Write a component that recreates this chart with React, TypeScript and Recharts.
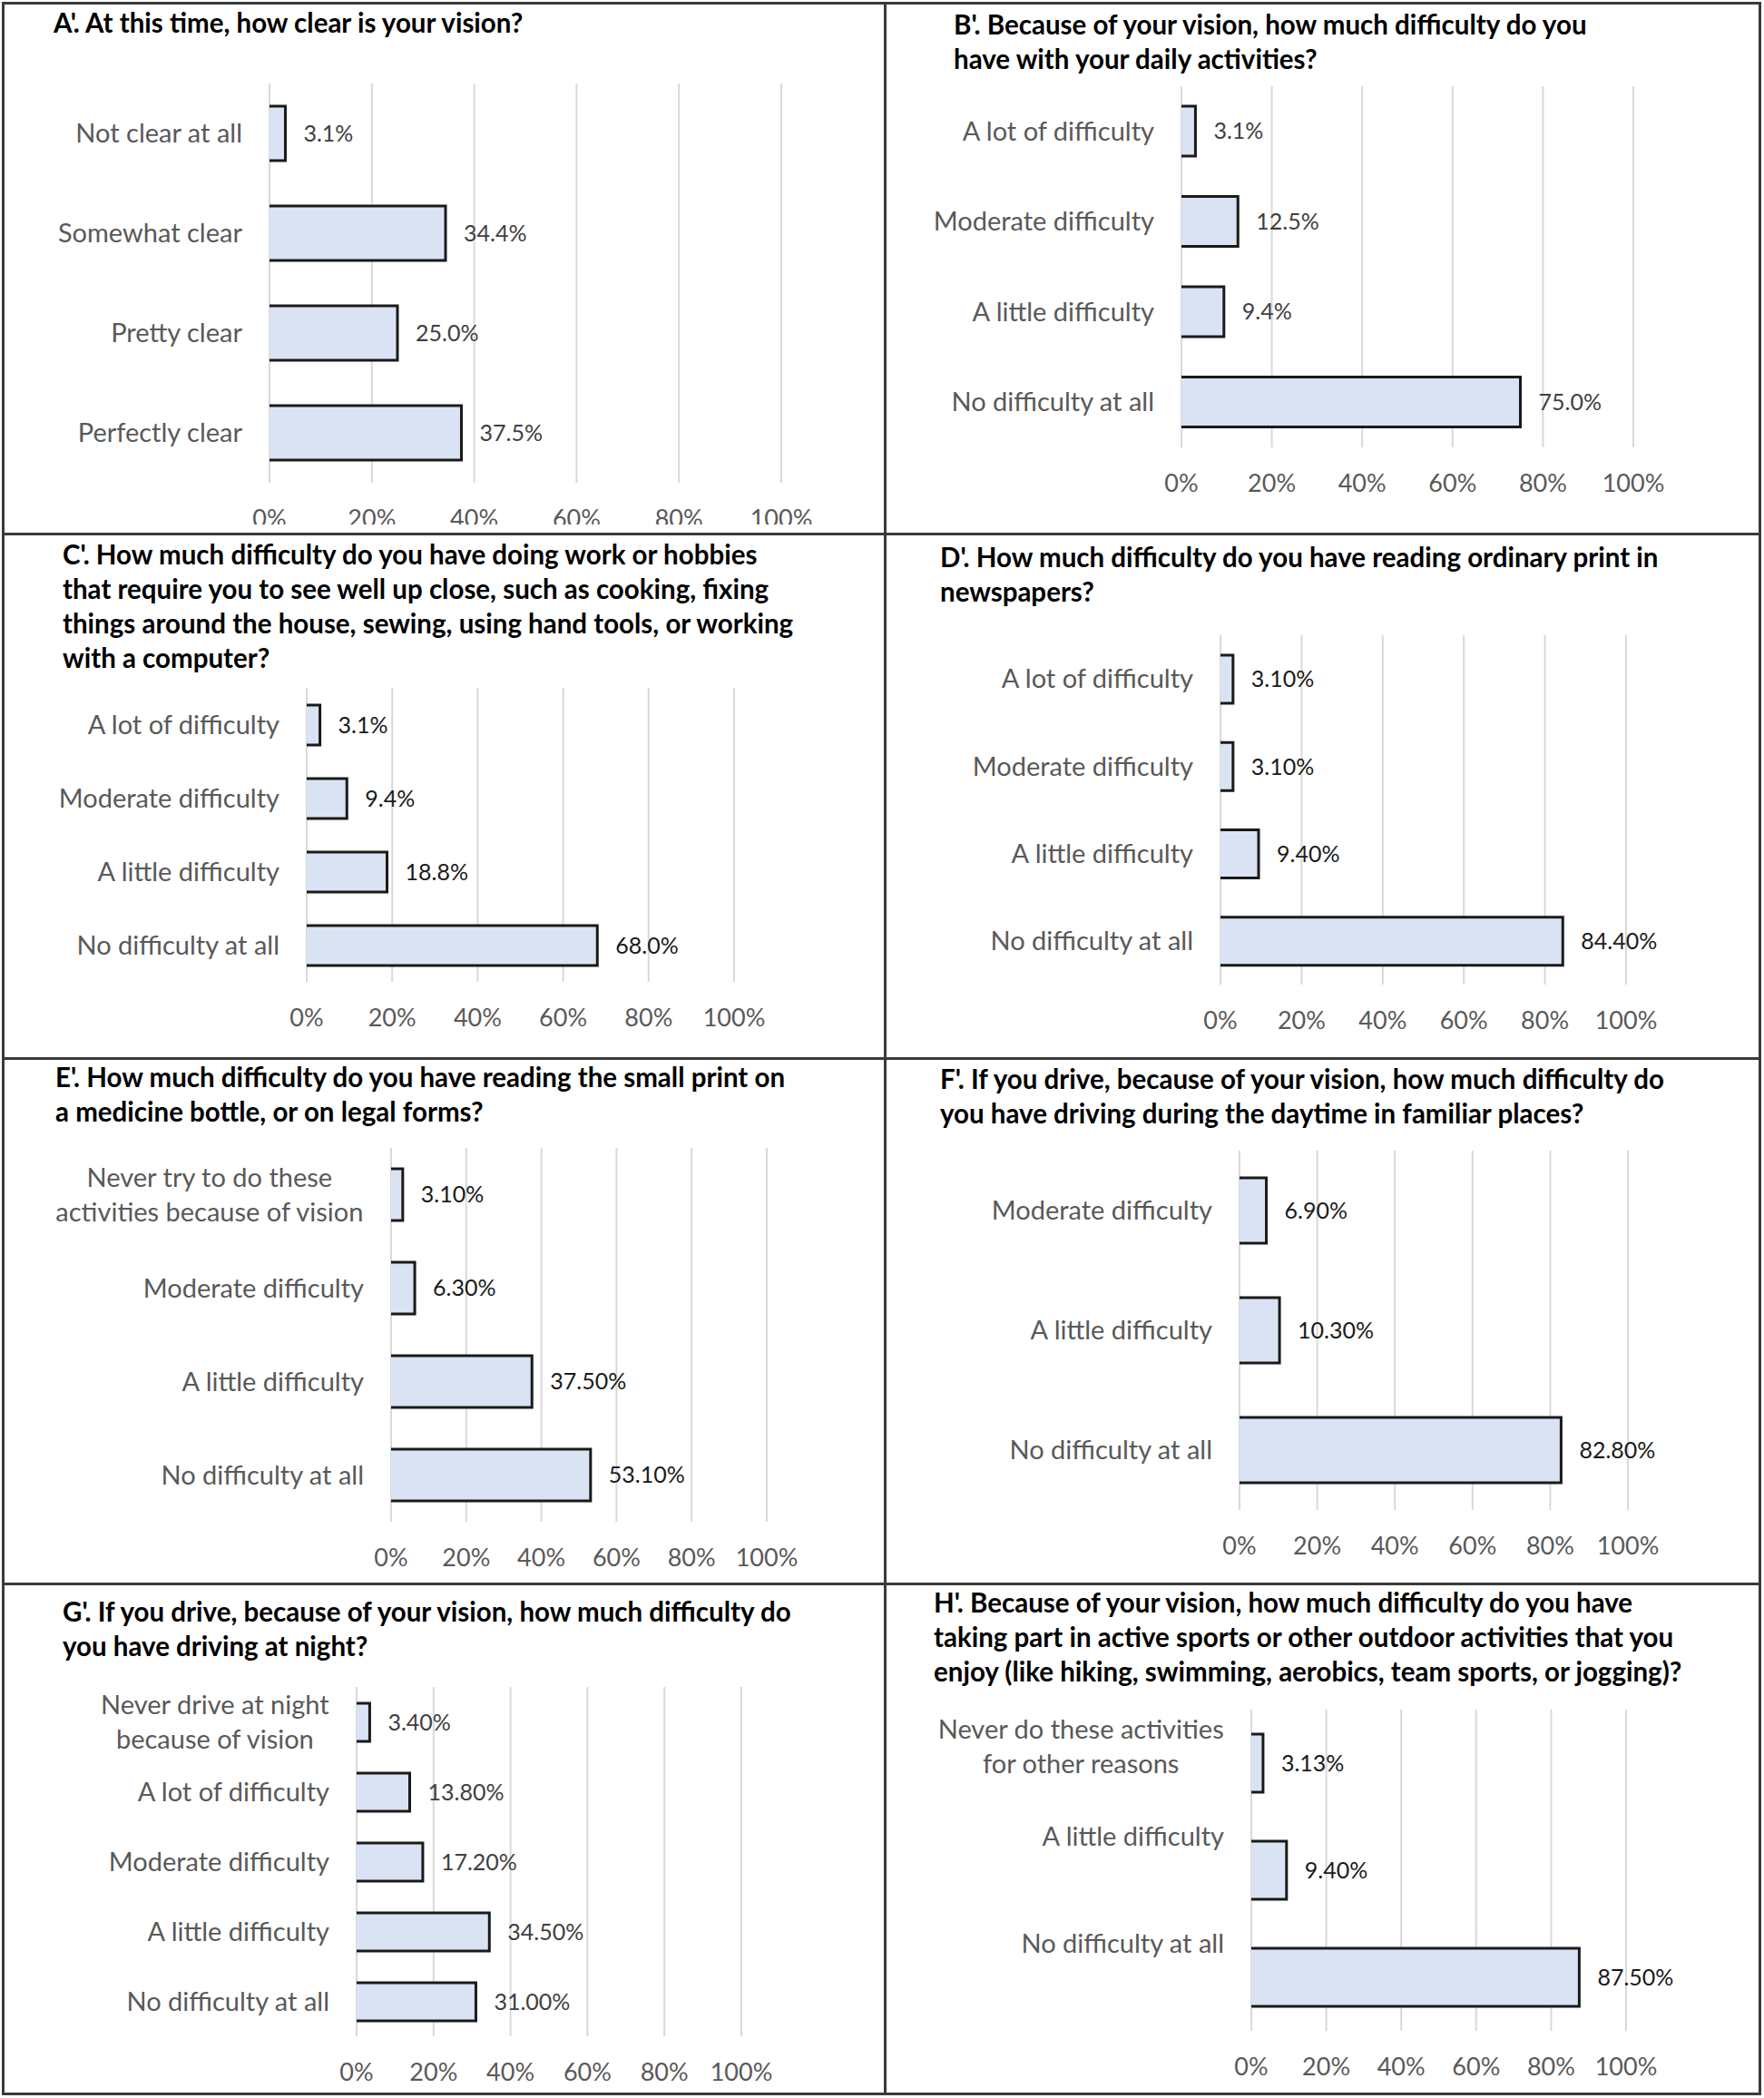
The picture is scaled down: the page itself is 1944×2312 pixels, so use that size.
import React from 'react';
import { BarChart, Bar, XAxis, YAxis, CartesianGrid, LabelList } from 'recharts';

const FONT = "Lato, 'Open Sans', 'DejaVu Sans Condensed', sans-serif";

// values in percent, top category first
const xTicks = [0, 20, 40, 60, 80, 100];

const catsA = ['Not clear at all', 'Somewhat clear', 'Pretty clear', 'Perfectly clear'];
const valsA = [3.1, 34.4, 25.0, 37.5];

const catsB = ['A lot of difficulty', 'Moderate difficulty', 'A little difficulty', 'No difficulty at all'];
const valsB = [3.1, 12.5, 9.4, 75.0];

const catsC = ['A lot of difficulty', 'Moderate difficulty', 'A little difficulty', 'No difficulty at all'];
const valsC = [3.1, 9.4, 18.8, 68.0];

const catsD = ['A lot of difficulty', 'Moderate difficulty', 'A little difficulty', 'No difficulty at all'];
const valsD = [3.1, 3.1, 9.4, 84.4];

const catsE = ['Never try to do these\nactivities because of vision', 'Moderate difficulty', 'A little difficulty', 'No difficulty at all'];
const valsE = [3.1, 6.3, 37.5, 53.1];

const catsF = ['Moderate difficulty', 'A little difficulty', 'No difficulty at all'];
const valsF = [6.9, 10.3, 82.8];

const catsG = ['Never drive at night\nbecause of vision', 'A lot of difficulty', 'Moderate difficulty', 'A little difficulty', 'No difficulty at all'];
const valsG = [3.4, 13.8, 17.2, 34.5, 31.0];

const catsH = ['Never do these activities\nfor other reasons', 'A little difficulty', 'No difficulty at all'];
const valsH = [3.13, 9.4, 87.5];

const titleA = ["A'. At this time, how clear is your vision?"];
const titleB = ["B'. Because of your vision, how much difficulty do you", 'have with your daily activities?'];
const titleC = [
  "C'. How much difficulty do you have doing work or hobbies",
  'that require you to see well up close, such as cooking, fixing',
  'things around the house, sewing, using hand tools, or working',
  'with a computer?',
];
const titleD = ["D'. How much difficulty do you have reading ordinary print in", 'newspapers?'];
const titleE = ["E'. How much difficulty do you have reading the small print on", 'a medicine bottle, or on legal forms?'];
const titleF = ["F'. If you drive, because of your vision, how much difficulty do", 'you have driving during the daytime in familiar places?'];
const titleG = ["G'. If you drive, because of your vision, how much difficulty do", 'you have driving at night?'];
const titleH = [
  "H'. Because of your vision, how much difficulty do you have",
  'taking part in active sports or other outdoor activities that you',
  'enjoy (like hiking, swimming, aerobics, team sports, or jogging)?',
];

interface PanelCfg {
  title: string[];
  cats: string[];
  vals: number[];
  dec: number;
  box: [number, number, number, number]; // left, top, width, height (page px)
  plot: [number, number, number, number]; // x0, x1, y0, y1 (page px)
  barSize: number;
  titleX: number;
  titleY: number;
  valueColor: string;
  labelTop?: boolean;
}

const panels: PanelCfg[] = [
  { title: titleA, cats: catsA, vals: valsA, dec: 1, box: [3, 3, 972, 575], plot: [297, 861, 92, 532], barSize: 60, titleX: 59, titleY: 25, valueColor: '#404040' },
  { title: titleB, cats: catsB, vals: valsB, dec: 1, box: [975, 3, 965, 585], plot: [1302, 1800, 95, 493], barSize: 55, titleX: 1051, titleY: 27, valueColor: '#404040' },
  { title: titleC, cats: catsC, vals: valsC, dec: 1, box: [3, 588, 972, 578], plot: [338, 809, 758, 1082], barSize: 44, titleX: 69, titleY: 611, valueColor: '#1a1a1a' },
  { title: titleD, cats: catsD, vals: valsD, dec: 2, box: [975, 588, 965, 578], plot: [1345, 1792, 700, 1085], barSize: 53, titleX: 1036, titleY: 614, valueColor: '#1a1a1a' },
  { title: titleE, cats: catsE, vals: valsE, dec: 2, box: [3, 1166, 972, 579], plot: [431, 845, 1265, 1677], barSize: 57, titleX: 61, titleY: 1187, valueColor: '#1a1a1a' },
  { title: titleF, cats: catsF, vals: valsF, dec: 2, box: [975, 1166, 965, 579], plot: [1366, 1794, 1268, 1664], barSize: 72, titleX: 1036, titleY: 1189, valueColor: '#1a1a1a' },
  { title: titleG, cats: catsG, vals: valsG, dec: 2, box: [3, 1745, 972, 563], plot: [393, 817, 1859, 2244], barSize: 42, titleX: 69, titleY: 1776, valueColor: '#404040' },
  { title: titleH, cats: catsH, vals: valsH, dec: 2, box: [975, 1745, 965, 563], plot: [1379, 1792, 1884, 2238], barSize: 64, titleX: 1029, titleY: 1766, valueColor: '#1a1a1a', labelTop: true },
];

const CAT_SIZE = 29;
const VAL_SIZE = 25;
const TICK_SIZE = 27;
const TITLE_SIZE = 29.5;
const XAXIS_H = 40;

let measureCtx: CanvasRenderingContext2D | null = null;
const textWidth = (s: string, size: number) => {
  if (!measureCtx) measureCtx = document.createElement('canvas').getContext('2d');
  if (!measureCtx) return s.length * size * 0.45;
  measureCtx.font = `${size}px ${FONT}`;
  return measureCtx.measureText(s).width;
};

const BarShape = (props: any) => {
  const { x, y, width, height } = props;
  return (
    <g>
      <rect x={x} y={y} width={width} height={height} fill="#DAE3F3" />
      <path d={`M${x},${y} H${x + width} V${y + height} H${x}`} stroke="#1a1a1a" strokeWidth={3} fill="none" />
    </g>
  );
};

const CatTick = (props: any) => {
  const { x, y, payload, cfg } = props;
  const lines = String(payload.value).split('\n');
  const lh = 38;
  const band = (cfg.plot[3] - cfg.plot[2]) / cfg.cats.length;
  const cy = cfg.labelTop ? y - band / 2 + 22 + ((lines.length - 1) * lh) / 2 : y;
  const right = x - 30;
  if (lines.length === 1) {
    return (
      <text x={right} y={cy} dy="0.35em" textAnchor="end" fill="#595959" fontSize={CAT_SIZE} fontFamily={FONT}>
        {lines[0]}
      </text>
    );
  }
  const w = Math.max(...lines.map((l) => textWidth(l, CAT_SIZE)));
  return (
    <g>
      {lines.map((l, i) => (
        <text key={i} x={right - w / 2} y={cy + (i - (lines.length - 1) / 2) * lh} dy="0.35em" textAnchor="middle" fill="#595959" fontSize={CAT_SIZE} fontFamily={FONT}>
          {l}
        </text>
      ))}
    </g>
  );
};

const PctTick = (props: any) => {
  const { x, y, payload } = props;
  return (
    <text x={x} y={y + 40} dy="0.35em" textAnchor="middle" fill="#595959" fontSize={TICK_SIZE} fontFamily={FONT}>
      {payload.value}%
    </text>
  );
};

const Panel: React.FC<{ cfg: PanelCfg }> = ({ cfg }) => {
  const [left, top, width, height] = cfg.box;
  const [x0, x1, y0, y1] = cfg.plot;
  const data = cfg.cats.map((name, i) => ({ name, value: cfg.vals[i] }));
  return (
    <>
      <div
        style={{
          position: 'absolute',
          left: cfg.titleX,
          top: cfg.titleY - 19,
          fontFamily: FONT,
          fontWeight: 'bold',
          fontSize: TITLE_SIZE,
          lineHeight: '38px',
          color: '#000',
          whiteSpace: 'nowrap',
        }}
      >
        {cfg.title.map((t, i) => (
          <div key={i}>{t}</div>
        ))}
      </div>
      <div style={{ position: 'absolute', left, top, width, height, overflow: 'hidden' }}>
        <BarChart
          width={width}
          height={height}
          data={data}
          layout="vertical"
          margin={{ top: y0 - top, right: left + width - x1, bottom: top + height - y1 - XAXIS_H, left: 0 }}
        >
          <CartesianGrid horizontal={false} stroke="#D9D9D9" strokeWidth={2} />
          <XAxis
            type="number"
            domain={[0, 100]}
            ticks={xTicks}
            height={XAXIS_H}
            axisLine={false}
            tickLine={false}
            tickSize={0}
            tickMargin={0}
            interval={0}
            tick={(p: any) => <PctTick {...p} />}
          />
          <YAxis
            type="category"
            dataKey="name"
            width={x0 - left}
            axisLine={false}
            tickLine={false}
            tickSize={0}
            tickMargin={0}
            interval={0}
            tick={(p: any) => <CatTick {...p} cfg={cfg} />}
          />
          <Bar dataKey="value" barSize={cfg.barSize} shape={BarShape} isAnimationActive={false}>
            <LabelList
              dataKey="value"
              position="right"
              offset={20}
              formatter={(v: any) => `${Number(v).toFixed(cfg.dec)}%`}
              style={{ fill: cfg.valueColor, fontSize: VAL_SIZE, fontFamily: FONT }}
            />
          </Bar>
        </BarChart>
      </div>
    </>
  );
};

const LINE = '#3a3a3a';

export default function App() {
  return (
    <div style={{ position: 'absolute', left: 0, top: 0, width: 1944, height: 2312, background: '#fff' }}>
      {panels.map((p, i) => (
        <Panel key={i} cfg={p} />
      ))}
      {/* frame and dividers */}
      <div style={{ position: 'absolute', left: 2, top: 2, width: 1939, height: 2307, border: `3px solid ${LINE}`, boxSizing: 'border-box' }} />
      <div style={{ position: 'absolute', left: 974, top: 2, width: 3, height: 2307, background: LINE }} />
      <div style={{ position: 'absolute', left: 2, top: 587, width: 1939, height: 3, background: LINE }} />
      <div style={{ position: 'absolute', left: 2, top: 1165, width: 1939, height: 3, background: LINE }} />
      <div style={{ position: 'absolute', left: 2, top: 1744, width: 1939, height: 3, background: LINE }} />
    </div>
  );
}
